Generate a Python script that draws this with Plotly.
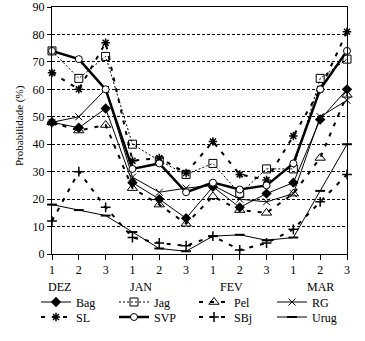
import plotly.graph_objects as go

months = ["DEZ", "JAN", "FEV", "MAR"]
decendios = ["1", "2", "3"] * 4
idx = list(range(len(decendios)))

Bag = [48, 46, 53, 26, 20, 13, 24.5, 17, 22, 26, 49, 60]
Jag = [74, 64, 72, 40, 34, 29, 33, 22, 31, 31, 64, 71]
Pel = [48, 45, 47, 24, 18, 11, 21, 16, 15, 22, 35, 58]
RG = [48, 50, 60, 28, 22.5, 24, 25, 20, 19, 22, 50, 56]
SL = [66, 60, 77, 34, 35, 29.5, 41, 29, 27, 43, 60, 81]
SVP = [74, 71, 60, 31, 33, 22.5, 26, 23.5, 25, 33, 60, 74]
SBj = [12, 30, 17, 6, 4, 3, 6.5, 1.5, 4, 9, 19, 29]
Urug = [18, 16, 14, 8, 2, 1, 6.5, 7, 5, 6, 23, 40]

FONT = "Liberation Serif"
DASH = "4px,7px"

series = [
    ("Bag", Bag, dict(color="black", width=1), dict(symbol="diamond", size=8, color="black")),
    ("Jag", Jag, dict(color="black", width=1, dash="2px,2px"), dict(symbol="square-open", size=8, color="black", line=dict(width=1))),
    ("Pel", Pel, dict(color="black", width=2, dash=DASH), dict(symbol="triangle-up-open", size=9, color="black", line=dict(width=1))),
    ("RG", RG, dict(color="black", width=1), dict(symbol="x-thin-open", size=7, color="black", line=dict(width=1, color="black"))),
    ("SL", SL, dict(color="black", width=2, dash=DASH), dict(symbol="asterisk-open", size=7, color="black", line=dict(width=1.5, color="black"))),
    ("SVP", SVP, dict(color="black", width=2.5), dict(symbol="circle", size=7, color="white", line=dict(width=1, color="black"))),
    ("SBj", SBj, dict(color="black", width=2, dash=DASH), dict(symbol="cross-thin-open", size=7, color="black", line=dict(width=1.5, color="black"))),
    ("Urug", Urug, dict(color="black", width=1), dict(symbol="line-ew-open", size=7, color="black", line=dict(width=2, color="black"))),
]

W, H = 365, 341
L, R, T, B = 52, 18, 7, 87
pw, ph = W - L - R, H - T - B

def px_x(p):
    return (p - L) / pw

def px_y(p):
    return (H - B - p) / ph

col_px = [40, 118, 198, 276]
row_px = [302, 317]

fig = go.Figure()
legends = {}
for i, (name, vals, line, marker) in enumerate(series):
    key = "legend" if i == 0 else f"legend{i + 1}"
    fig.add_trace(go.Scatter(
        x=idx, y=vals, name=name, mode="lines+markers",
        line=line, marker=marker, cliponaxis=False, legend=key,
    ))
    legends[key] = dict(
        orientation="h", x=px_x(col_px[i % 4] - 4), y=px_y(row_px[i // 4]),
        xanchor="left", yanchor="middle",
        font=dict(family=FONT, size=12, color="black"),
        bgcolor="rgba(0,0,0,0)", borderwidth=0,
    )

fig.update_layout(
    template="none",
    width=W, height=H,
    margin=dict(l=L, r=R, t=T, b=B, pad=0),
    paper_bgcolor="white", plot_bgcolor="white",
    font=dict(family=FONT, size=12, color="black"),
    showlegend=True,
    **legends,
)

fig.update_xaxes(
    range=[0, len(idx) - 1], tickmode="array", tickvals=idx, ticktext=decendios,
    showgrid=False, zeroline=False, showline=True, linecolor="black", linewidth=1,
    mirror=True, ticks="outside", ticklen=5, tickcolor="black",
    tickfont=dict(family=FONT, size=12, color="black"),
)
fig.update_yaxes(
    range=[0, 90], dtick=10, showgrid=True, gridcolor="black", gridwidth=1,
    griddash="3px,2px", zeroline=False, showline=True, linecolor="black",
    linewidth=1, mirror=True, ticks="outside", ticklen=4, tickcolor="black",
    tickfont=dict(family=FONT, size=12, color="black"),
)

fig.add_annotation(text="Probabilidade (%)", xref="paper", yref="paper",
                   x=px_x(19), y=px_y(126), textangle=-90, showarrow=False,
                   xanchor="center", yanchor="middle",
                   font=dict(family=FONT, size=11, color="black"))

month_px = [59, 141, 231, 320]
for m, p in zip(months, month_px):
    fig.add_annotation(text=m, xref="paper", yref="paper", x=px_x(p), y=px_y(287),
                       showarrow=False, xanchor="center", yanchor="middle",
                       font=dict(family=FONT, size=12, color="black"))

fig.write_html("out.html")
